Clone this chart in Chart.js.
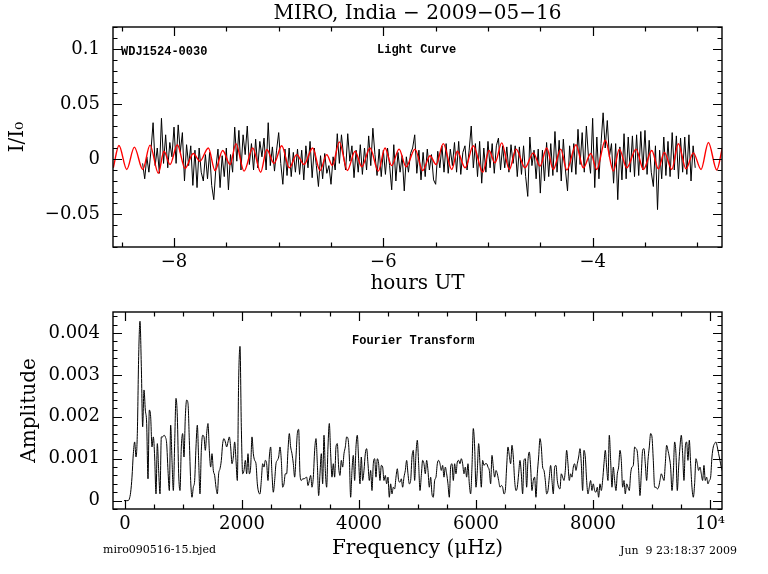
<!DOCTYPE html>
<html>
<head>
<meta charset="utf-8">
<script src="https://cdn.jsdelivr.net/npm/chart.js@4.4.1/dist/chart.umd.min.js"></script>
<style>
  body { margin: 0; background: #fff; }
  #wrap { position: relative; width: 768px; height: 574px; overflow: hidden; }
  canvas { position: absolute; left: 0; }
  .lbl { position: absolute; color: #000; white-space: pre; line-height: 1; }
  .serif { font-family: 'DejaVu Serif', serif; }
  .mono { font-family: 'Liberation Mono', monospace; font-weight: bold; }
</style>
</head>
<body>
<div id="wrap">
  <canvas id="lc" width="768" height="300" style="top:0"></canvas>
  <canvas id="ft" width="768" height="274" style="top:300px"></canvas>
  <div class="lbl serif" style="left:113px;width:609px;text-align:center;top:2px;font-size:20px">MIRO, India − 2009−05−16</div>
  <div class="lbl mono" style="left:121px;top:46px;font-size:12px">WDJ1524-0030</div>
  <div class="lbl mono" style="left:377px;top:44px;font-size:12px">Light Curve</div>
  <div class="lbl mono" style="left:352px;top:335px;font-size:12px">Fourier Transform</div>
  <div class="lbl serif" style="left:103px;top:544px;font-size:11px">miro090516-15.bjed</div>
  <div class="lbl serif" style="right:31px;top:545px;font-size:11px">Jun  9 23:18:37 2009</div>
</div>
<script>
// light curve: hours UT, sampled every 0.02 h
const lcStart = -8.30, lcStep = 0.02;
const lcFlux = [
  -0.004, -0.018, 0.002, -0.012, 0.008, 0.033, -0.006, 0.010, -0.013, 0.037,
  -0.004, 0.022, -0.008, 0.015, 0.002, 0.029, -0.004, 0.031, 0.006, 0.024,
  -0.020, 0.013, -0.006, 0.012, -0.024, 0.008, -0.026, 0.010, -0.012, -0.020,
  0.004, -0.018, 0.006, -0.024, -0.037, -0.008, 0.009, -0.026, 0.003, -0.016,
  0.010, -0.028, 0.004, -0.012, 0.029, -0.002, 0.026, -0.010, 0.022, 0.004,
  0.030, -0.005, 0.014, -0.010, 0.018, -0.008, 0.016, 0.002, 0.019, -0.010,
  0.033, -0.006, 0.011, -0.011, 0.008, 0.024, -0.004, -0.023, 0.009, -0.015,
  0.010, -0.016, 0.006, -0.012, 0.009, -0.014, 0.008, -0.019, 0.012, -0.008,
  0.016, -0.017, 0.010, -0.006, -0.025, 0.003, -0.018, 0.005, -0.013, -0.006,
  -0.023, 0.002, -0.010, 0.023, -0.004, 0.022, 0.003, -0.010, 0.023, -0.002,
  0.012, -0.017, 0.008, -0.012, 0.013, -0.014, 0.010, -0.010, 0.021, -0.006,
  0.028, 0.004, -0.015, 0.009, -0.016, 0.008, -0.014, 0.010, -0.006, -0.028,
  0.013, -0.020, 0.006, -0.012, 0.003, -0.029, 0.002, -0.012, 0.005, 0.010,
  0.022, -0.013, 0.008, -0.019, 0.006, -0.016, 0.009, -0.010, 0.004, -0.019,
  -0.023, 0.007, -0.008, 0.012, -0.012, 0.014, -0.013, 0.009, -0.006, 0.015,
  -0.012, 0.016, -0.014, 0.006, 0.012, -0.010, 0.008, 0.030, -0.008, 0.014,
  -0.016, 0.016, -0.022, 0.010, -0.012, 0.016, -0.008, 0.014, -0.013, 0.012,
  0.019, -0.010, 0.012, -0.008, 0.011, -0.012, 0.013, -0.004, 0.012, -0.016,
  0.011, -0.014, 0.012, -0.016, -0.034, 0.020, -0.006, 0.008, -0.018, 0.009,
  -0.031, 0.008, -0.020, 0.015, -0.016, 0.014, -0.015, 0.025, -0.012, 0.017,
  -0.020, 0.018, -0.010, -0.029, 0.012, -0.012, 0.014, -0.014, 0.027, -0.005,
  0.024, -0.012, 0.030, 0.002, -0.013, 0.037, -0.026, 0.020, -0.018, 0.014,
  0.042, 0.010, 0.035, 0.002, 0.014, -0.022, 0.014, -0.037, 0.011, -0.019,
  0.023, -0.018, 0.020, -0.012, 0.021, -0.016, 0.022, -0.015, 0.025, -0.010,
  0.026, -0.014, 0.017, -0.012, -0.025, 0.012, -0.046, 0.008, -0.018, 0.020,
  -0.015, 0.016, -0.016, 0.024, -0.010, 0.021, -0.018, 0.019, -0.012, 0.020,
  -0.014, 0.022, -0.020, 0.012, -0.008
];

// red fit curve, read at its turning points
const fitHours = [
  -8.580, -8.526, -8.452, -8.379, -8.299, -8.229, -8.150, -8.096, -8.038, -7.968,
  -7.895, -7.816, -7.752, -7.672, -7.608, -7.535, -7.465, -7.408, -7.331, -7.248,
  -7.172, -7.114, -7.044, -6.971, -6.898, -6.828, -6.758, -6.675, -6.605, -6.541,
  -6.487, -6.420, -6.344, -6.270, -6.206, -6.127, -6.048, -5.984, -5.920, -5.850,
  -5.783, -5.697, -5.624, -5.554, -5.496, -5.427, -5.346, -5.293, -5.219, -5.140,
  -5.050, -4.990, -4.933, -4.869, -4.796, -4.732, -4.646, -4.567, -4.503, -4.439,
  -4.376, -4.305, -4.247, -4.159, -4.089, -4.018, -3.961, -3.879, -3.802, -3.745,
  -3.674, -3.585, -3.515, -3.435, -3.372, -3.315, -3.244, -3.181, -3.108, -3.038,
  -2.964, -2.894, -2.814, -2.761
];
const fitFlux = [
  -0.008, 0.0123, -0.0095, 0.0108, -0.0095, 0.0126, -0.013, 0.007, -0.005, 0.013,
  -0.0086, 0.005, -0.002, 0.010, -0.0105, 0.0077, -0.005, 0.014, -0.011, 0.010,
  -0.012, 0.0086, -0.004, 0.012, -0.008, 0.004, -0.005, 0.010, -0.0105, 0.004,
  -0.006, 0.0156, -0.0105, 0.007, -0.007, 0.010, -0.011, 0.010, -0.006, 0.009,
  -0.007, 0.009, -0.0105, 0.003, -0.005, 0.014, -0.0095, 0.007, -0.008, 0.012,
  -0.012, 0.0077, -0.0035, 0.0147, -0.0095, 0.009, -0.008, 0.0056, -0.0065, 0.010,
  -0.0095, 0.009, -0.010, 0.013, -0.008, 0.005, -0.0095, 0.017, -0.011, 0.009,
  -0.008, 0.009, -0.0095, 0.0077, -0.009, 0.006, -0.0095, 0.0138, -0.009, 0.0056,
  -0.0095, 0.015, -0.010, 0.010
];

// Fourier transform: frequency in microHz, sampled every 22.79 microHz
const ftStart = -17, ftStep = 22.79;
const ftAmp = [
  0, 0, 0, 0, 0.00004, 0.0002, 0.00056, 0.00112, 0.0014, 0.00104,
  0.0016, 0.00344, 0.00428, 0.0032, 0.00176, 0.00264, 0.00216, 0.00184, 0.00052, 0.00216,
  0.002, 0.00128, 0.00152, 0.00104, 0.00016, 0.00136, 0.00072, 0.00016, 0.00152, 0.00152,
  0.00156, 0.00152, 0.00136, 0.00072, 0.00024, 0.0018, 0.00096, 0.00024, 0.00136, 0.00244,
  0.002, 0.00064, 0.00024, 0.00128, 0.0016, 0.00104, 0.002, 0.0024, 0.00232, 0.00144,
  0.00048, 0.00008, 0.00032, 0.00048, 0.00128, 0.0018, 0.00096, 0.00016, 0.0012, 0.00156,
  0.00152, 0.0012, 0.0016, 0.00184, 0.0012, 0.0008, 0.00112, 0.00072, 0.0006, 0.00032,
  0.00016, 0.00064, 0.00076, 0.00096, 0.00136, 0.00148, 0.0014, 0.00128, 0.0014, 0.00152,
  0.00128, 0.00088, 0.00104, 0.0014, 0.00096, 0.00048, 0.00288, 0.00368, 0.00176, 0.00064,
  0.00072, 0.00096, 0.00064, 0.00112, 0.00064, 0.0008, 0.00152, 0.00112, 0.00096, 0.00088,
  0.0004, 0.0002, 0.00016, 0.00048, 0.00088, 0.0008, 0.00096, 0.00088, 0.00048, 0.00104,
  0.00128, 0.00064, 0.0002, 0.00048, 0.00088, 0.00096, 0.00104, 0.00128, 0.00096, 0.00032,
  0.0004, 0.00064, 0.00064, 0.0012, 0.0016, 0.00128, 0.00112, 0.00088, 0.00056, 0.00104,
  0.0016, 0.0017,
  0.00064, 0.00048, 0.00052, 0.00052, 0.00054, 0.00056, 0.00036, 0.00048, 0.0006, 0.00032,
  0.00056, 0.0012, 0.00148, 0.00088, 0.00012, 0.00064, 0.00112, 0.0004, 0.00156, 0.00072,
  0.00032, 0.00128, 0.00184, 0.00112, 0.00056, 0.00088, 0.00056, 0.00128, 0.00136, 0.0008,
  0.0006, 0.00096, 0.0008, 0.00112, 0.00128, 0.00152, 0.00148, 0.00104, 0.00008, 0.00072,
  0.00108, 0.00048, 0.00128, 0.00156, 0.00096, 0.0004, 0.00104, 0.00048, 0.00072, 0.00112,
  0.00124, 0.00088, 0.00048, 0.00072, 0.00024, 0.00088, 0.001, 0.00056, 0.001, 0.00088,
  0.00048, 0.00084, 0.0008, 0.00048, 0.0006, 0.0004, 0.00056, 0.00008, 0.0004, 0.00016,
  0.00032, 0.00028, 0.00056, 0.00076, 0.00048, 0.00044, 0.00052, 0.00032, 0.00056, 0.00072,
  0.00096, 0.00064, 0.0004, 0.00048, 0.00104, 0.0012, 0.00048, 0.00112, 0.00144, 0.00088,
  0.00024, 0.0006, 0.00096, 0.00088, 0.00064, 0.00096, 0.00072, 0.00032, 0.00056, 0.00016,
  0.00008, 0.00048, 0.00056, 0.00088, 0.00096, 0.00088, 0.00072, 0.00084, 0.00056, 0.0008,
  0.00064, 0.0004, 0.00008, 0.0008, 0.00088, 0.00048, 0.00088, 0.00064, 0.00092, 0.00096,
  0.00088, 0.001, 0.00088, 0.00064, 0.0008, 0.00056, 0.00088, 0.0004, 0.00016, 0.0008,
  0.00172, 0.00128, 0.00032, 0.00072, 0.00136, 0.00088, 0.00032, 0.00096, 0.00084, 0.00088,
  0.00088, 0.0008, 0.00072, 0.0004, 0.00108, 0.0008, 0.00056, 0.00072, 0.00064, 0.00048,
  0.00032, 0.00036, 0.00032, 0.00016, 0.00024, 0.0008, 0.00128, 0.00108,
  0.00088, 0.00132, 0.00104, 0.00048, 0.00024, 0.00032, 0.00064, 0.00096, 0.00064, 0.00016,
  0.00096, 0.001, 0.00032, 0.00096, 0.00116, 0.0008, 0.00024, 0.00048, 0.00056, 0.00008,
  0.00064, 0.00104, 0.00148, 0.00128, 0.0008, 0.00072, 0.00048, 0.00016, 0.00024, 0.00056,
  0.00084, 0.00048, 0.00016, 0.0008, 0.00084, 0.00048, 0.00032, 0.00028, 0.00064, 0.00056,
  0.00048, 0.00072, 0.0012, 0.00088, 0.00048, 0.00064, 0.00056, 0.0008, 0.00088, 0.00072,
  0.00088, 0.00104, 0.00124, 0.00088, 0.00024, 0.0012, 0.00104, 0.00048, 0.00016, 0.00032,
  0.00048, 0.00024, 0.0004, 0.00024, 0.0002, 0.00032, 0.00008, 0.0004, 0.00024, 0.00048,
  0.00088, 0.0012, 0.0008, 0.00048, 0.00156, 0.00096, 0.00032, 0.0008, 0.00048, 0.00024,
  0.00064, 0.0008, 0.0012, 0.00096, 0.00032, 0.00048, 0.00016, 0.0004, 0.00032, 0.00024,
  0.00064, 0.0008, 0.00084, 0.00128, 0.00124, 0.00116, 0.00072, 0.00012, 0.00064, 0.0012,
  0.00124, 0.00088, 0.00048, 0.00096, 0.00128, 0.0016, 0.00152, 0.00096, 0.00032, 0.00032,
  0.00028, 0.00032, 0.00048, 0.00064, 0.00056, 0.00048, 0.00088, 0.00132, 0.0012, 0.00104,
  0.0008, 0.00024, 0.00064, 0.0014, 0.00112, 0.00024, 0.0008, 0.00128, 0.00156, 0.00112,
  0.00048, 0.00128, 0.0014, 0.00096, 0.00144, 0.00088, 0.00032, 0.00008, 0.0004, 0.001,
  0.00088, 0.00072, 0.0008, 0.00064, 0.00048, 0.00084, 0.00048, 0.00056, 0.0004, 0.00048,
  0.00056, 0.00104, 0.00128, 0.00136, 0.0014, 0.00128, 0.00112, 0.00096, 0.0008, 0.00068
];

const lcXTicks = [-8, -6, -4];
const lcYTicks = [-0.05, 0, 0.05, 0.1];
const ftXTicks = [0, 2000, 4000, 6000, 8000, 10000];
const ftYTicks = [0, 0.001, 0.002, 0.003, 0.004];

Chart.defaults.font.family = "'DejaVu Serif', serif";
Chart.defaults.color = '#000';

function minus(v) {
  if (v === 0) return '0';
  return (v < 0 ? '\u2212' : '') + String(Math.abs(v));
}

// tick positions (in data units) for minor marks, built from integer steps
function marks(from, to, step, majorEvery) {
  const out = [];
  const n0 = Math.ceil(from / step - 1e-9), n1 = Math.floor(to / step + 1e-9);
  for (let n = n0; n <= n1; n++) out.push([n * step, n % majorEvery === 0]);
  return out;
}

// PGPLOT style box: frame plus inward ticks on all four sides
const boxPlugin = {
  id: 'box',
  afterDatasetsDraw(chart, args, opts) {
    const { ctx, chartArea: a, scales: { x, y } } = chart;
    ctx.save();
    ctx.strokeStyle = '#000';
    ctx.lineWidth = 1.2;
    ctx.beginPath();
    opts.xMarks.forEach(([v, major]) => {
      const p = Math.round(x.getPixelForValue(v)) + 0.5;
      const len = major ? 9 : 4.5;
      ctx.moveTo(p, a.bottom); ctx.lineTo(p, a.bottom - len);
      ctx.moveTo(p, a.top); ctx.lineTo(p, a.top + len);
    });
    opts.yMarks.forEach(([v, major]) => {
      const p = Math.round(y.getPixelForValue(v)) + 0.5;
      const len = major ? 9 : 4.5;
      ctx.moveTo(a.left, p); ctx.lineTo(a.left + len, p);
      ctx.moveTo(a.right, p); ctx.lineTo(a.right - len, p);
    });
    ctx.stroke();
    ctx.lineWidth = 1.4;
    ctx.strokeRect(a.left, a.top, a.right - a.left, a.bottom - a.top);
    ctx.restore();
  }
};

function noPad(scale) {
  scale.paddingTop = 0; scale.paddingBottom = 0;
  scale.paddingLeft = 0; scale.paddingRight = 0;
}

function axisX(min, max, ticks, fmt, height, titleText, titlePad) {
  return {
    type: 'linear', min: min, max: max,
    grid: { display: false, drawTicks: false },
    border: { display: false },
    ticks: { font: { size: 18 }, padding: 5, maxRotation: 0, autoSkip: false, callback: fmt },
    afterBuildTicks: s => { s.ticks = ticks.map(v => ({ value: v })); },
    afterFit: s => { s.height = height; noPad(s); },
    title: { display: true, text: titleText, font: { size: 20 }, padding: { top: 0, bottom: titlePad } }
  };
}

function axisY(min, max, ticks, fmt, titleText, titlePad) {
  return {
    type: 'linear', min: min, max: max,
    grid: { display: false, drawTicks: false },
    border: { display: false },
    ticks: { font: { size: 18 }, padding: 13, autoSkip: false, callback: fmt },
    afterBuildTicks: s => { s.ticks = ticks.map(v => ({ value: v })); },
    afterFit: s => { s.width = 113; noPad(s); },
    title: { display: true, text: titleText, font: { size: 20 }, padding: { top: titlePad, bottom: 0 } }
  };
}

new Chart(document.getElementById('lc'), {
  type: 'line',
  data: {
    datasets: [
      {
        data: fitHours.map((h, i) => ({ x: h, y: fitFlux[i] })),
        borderColor: '#ff0000', borderWidth: 1.4,
        pointRadius: 0, cubicInterpolationMode: 'monotone', order: 0
      },
      {
        data: lcFlux.map((f, i) => ({ x: lcStart + i * lcStep, y: f })),
        borderColor: '#000', borderWidth: 1,
        pointRadius: 0, tension: 0, order: 1
      }
    ]
  },
  options: {
    responsive: false, animation: false, events: [],
    layout: { padding: { left: 0, right: 46, top: 27, bottom: 0 } },
    plugins: {
      legend: { display: false }, tooltip: { enabled: false },
      box: { xMarks: marks(-8.583, -2.764, 0.5, 4), yMarks: marks(-0.08, 0.12, 0.01, 5) }
    },
    scales: {
      x: axisX(-8.583, -2.764, lcXTicks, v => minus(v), 53, 'hours UT', 4),
      y: axisY(-0.08, 0.12, lcYTicks, v => minus(v), 'I/I\u2080', 6)
    }
  },
  plugins: [boxPlugin]
});

new Chart(document.getElementById('ft'), {
  type: 'line',
  data: {
    datasets: [{
      data: ftAmp.map((a, i) => ({ x: ftStart + i * ftStep, y: a })),
      borderColor: '#000', borderWidth: 1,
      pointRadius: 0, cubicInterpolationMode: 'monotone'
    }]
  },
  options: {
    responsive: false, animation: false, events: [],
    layout: { padding: { left: 0, right: 46, top: 12, bottom: 0 } },
    plugins: {
      legend: { display: false }, tooltip: { enabled: false },
      box: { xMarks: marks(-205, 10205, 500, 4), yMarks: marks(-0.0002, 0.0045, 0.0002, 5) }
    },
    scales: {
      x: axisX(-205, 10205, ftXTicks, v => (v === 10000 ? '10\u2074' : String(v)), 65, 'Frequency (\u03bcHz)', 13),
      y: axisY(-0.0002, 0.0045, ftYTicks, v => (v === 0 ? '0' : v.toFixed(3)), 'Amplitude', 18)
    }
  },
  plugins: [boxPlugin]
});
</script>
</body>
</html>
